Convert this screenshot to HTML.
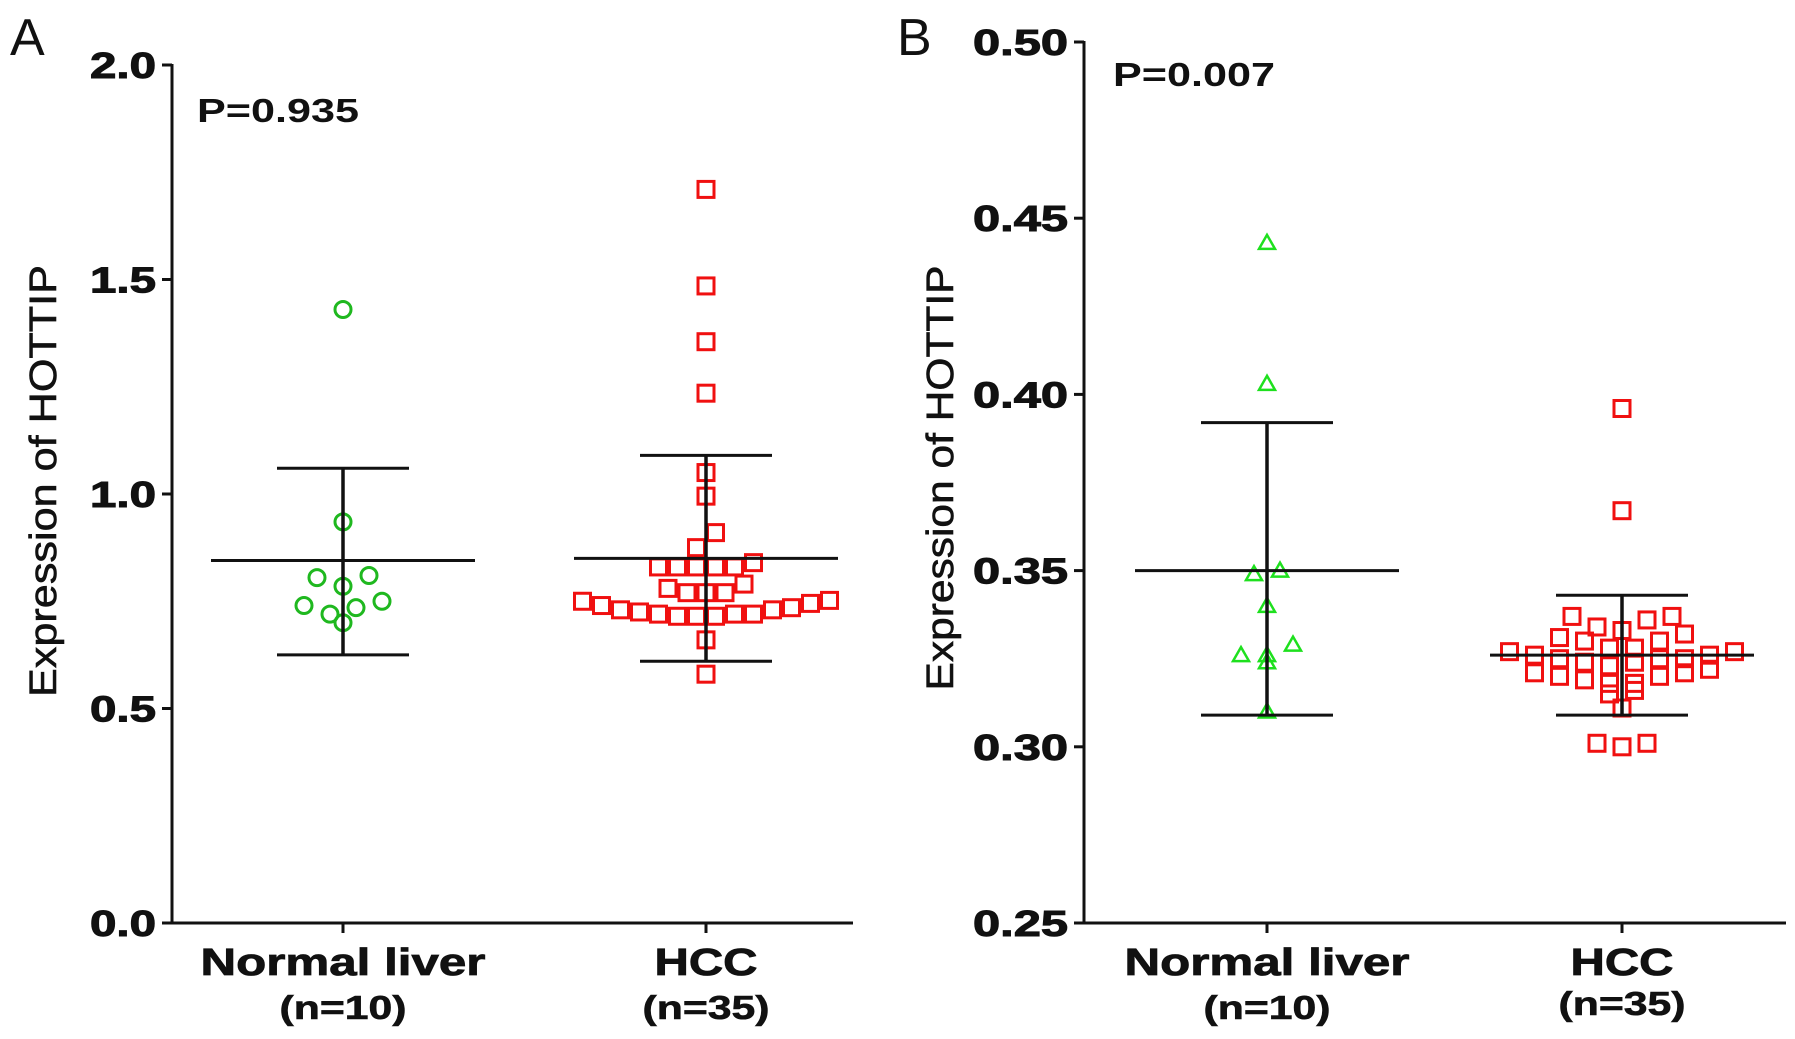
<!DOCTYPE html>
<html><head><meta charset="utf-8"><style>
html,body{margin:0;padding:0;background:#fff;}
svg{display:block;font-family:"Liberation Sans",Arial,sans-serif;}
</style></head><body>
<svg id="chart" width="1795" height="1039" viewBox="0 0 1795 1039" xmlns="http://www.w3.org/2000/svg"></svg>
<script>
// Panel A data
const aCategories = ["Normal liver", "HCC"];
const aCounts = ["(n=10)", "(n=35)"];
const aTicks = [0.0, 0.5, 1.0, 1.5, 2.0];
const aTickLabels = ["0.0", "0.5", "1.0", "1.5", "2.0"];
const aNormal = [1.43, 0.935, 0.81, 0.805, 0.785, 0.75, 0.74, 0.735, 0.72, 0.70];
const aHCC = [1.71, 1.485, 1.355, 1.235, 1.05, 0.995, 0.91, 0.875, 0.84, 0.83, 0.83, 0.83, 0.83, 0.83,
  0.79, 0.78, 0.77, 0.77, 0.77, 0.752, 0.75, 0.745, 0.74, 0.735, 0.73, 0.73, 0.725, 0.72, 0.72, 0.72, 0.715, 0.715, 0.715, 0.66, 0.58];
const aMean = [0.845, 0.85];
const aSDhi = [1.06, 1.09];
const aSDlo = [0.625, 0.61];
// Panel B data
const bTicks = [0.25, 0.30, 0.35, 0.40, 0.45, 0.50];
const bTickLabels = ["0.25", "0.30", "0.35", "0.40", "0.45", "0.50"];
const bNormal = [0.443, 0.403, 0.350, 0.349, 0.340, 0.329, 0.326, 0.326, 0.324, 0.310];
const bHCC = [0.396, 0.367, 0.337, 0.337, 0.336, 0.334, 0.333, 0.332, 0.331, 0.330, 0.330, 0.328, 0.328, 0.327, 0.327,
  0.326, 0.326, 0.325, 0.325, 0.325, 0.324, 0.324, 0.323, 0.322, 0.321, 0.321, 0.320, 0.320, 0.319, 0.318, 0.318,
  0.316, 0.315, 0.311, 0.301, 0.300, 0.301];
const bMean = [0.350, 0.326];
const bSDhi = [0.392, 0.343];
const bSDlo = [0.309, 0.309];

const NS = "http://www.w3.org/2000/svg";
const svg = document.getElementById("chart");
function el(tag, attrs, parent, text) {
  const e = document.createElementNS(NS, tag);
  for (const k in attrs) e.setAttribute(k, attrs[k]);
  if (text !== undefined) e.textContent = text;
  (parent || svg).appendChild(e);
  return e;
}

function rows(vals, yf, step, band) {
  const idx = vals.map((v, i) => i).sort((a, b) => vals[b] - vals[a]);
  const out = new Array(vals.length);
  let group = [];
  const flush = () => {
    if (!group.length) return;
    const asc = group.slice().sort((a, b) => vals[a] - vals[b]);
    const n = asc.length;
    const slots = [];
    for (let s = 0; s < n; s++) slots.push(s - (n - 1) / 2);
    slots.sort((a, b) => Math.abs(a) - Math.abs(b) || a - b);
    asc.forEach((i, k) => { out[i] = {dx: slots[k] * step, y: yf(vals[i])}; });
    group = [];
  };
  idx.forEach(i => {
    if (group.length && Math.abs(yf(vals[i]) - yf(vals[group[0]])) > band) flush();
    group.push(i);
  });
  flush();
  return out;
}

function panel(cfg) {
  const g = el("g", { });
  const y = v => cfg.y0 + (v - cfg.vmin) / (cfg.vmax - cfg.vmin) * (cfg.y1 - cfg.y0);
  const lt = el("text", {x: cfg.letterX, y: cfg.letterY, "font-size": 52, fill: "#111"}, g, cfg.letter);
   
  const ya = el("line", {x1: cfg.ax, y1: y(cfg.vmax) - 1, x2: cfg.ax, y2: cfg.y0 + 1.5, stroke: "#111", "stroke-width": 3}, g);
   
  const xa = el("line", {x1: cfg.ax - 1.5, y1: cfg.y0, x2: cfg.axEnd, y2: cfg.y0, stroke: "#111", "stroke-width": 3}, g);
   
  cfg.ticks.forEach((t, i) => {
    el("line", {x1: cfg.ax - 10, y1: y(t), x2: cfg.ax, y2: y(t), stroke: "#111", "stroke-width": 3}, g);
    const tl = el("text", {x: cfg.ax - 16, y: y(t) + 13, "font-size": 36, "font-weight": "bold", "text-anchor": "end", fill: "#111", stroke: "#111", "stroke-width": 1, textLength: cfg.tickLen, lengthAdjust: "spacingAndGlyphs"}, g, cfg.tickLabels[i]);
     
  });
  const yt = el("text", {x: 0, y: 0, "font-size": 38, "text-anchor": "middle", fill: "#111", stroke: "#111", "stroke-width": 0.6, transform: `translate(${cfg.titleX},${cfg.titleY}) rotate(-90)`, textLength: cfg.titleLen, lengthAdjust: "spacingAndGlyphs"}, g, "Expression of HOTTIP");
   
  const pt = el("text", {x: cfg.pX, y: cfg.pY, "font-size": 33, "font-weight": "bold", fill: "#111", textLength: 162, lengthAdjust: "spacingAndGlyphs"}, g, cfg.pText);
   
  const catLen = [285, 103], nLen = [127, 127];
  aCategories.forEach((c, i) => {
    const cx = cfg.cx[i];
    el("line", {x1: cx, y1: cfg.y0, x2: cx, y2: cfg.y0 + 10, stroke: "#111", "stroke-width": 3}, g);
    const cl = el("text", {x: cx, y: cfg.y0 + 52, "font-size": 38, "font-weight": "bold", "text-anchor": "middle", fill: "#111", stroke: "#111", "stroke-width": 0.8, textLength: catLen[i], lengthAdjust: "spacingAndGlyphs"}, g, c);
     
    const nl = el("text", {x: cx, y: cfg.y0 + cfg.nDy[i], "font-size": 33, "font-weight": "bold", "text-anchor": "middle", fill: "#111", stroke: "#111", "stroke-width": 0.6, textLength: nLen[i], lengthAdjust: "spacingAndGlyphs"}, g, aCounts[i]);
     
  });
  [cfg.normal, cfg.hcc].forEach((vals, gi) => {
    const cx = cfg.cx[gi];
    const pos = rows(vals, y, cfg.step[gi], 16);
    pos.forEach(p => {
      let m;
      if (gi === 1) {
        m = el("rect", {x: cx + p.dx - 8, y: p.y - 8, width: 16, height: 16, fill: "none", stroke: "#f01010", "stroke-width": 3}, g);
      } else if (cfg.tri) {
        const x0 = cx + p.dx;
        m = el("polygon", {points: `${x0},${p.y - 8} ${x0 - 8},${p.y + 6} ${x0 + 8},${p.y + 6}`, fill: "none", stroke: "#1ee01e", "stroke-width": 2.5}, g);
      } else {
        m = el("circle", {cx: cx + p.dx, cy: p.y, r: 8, fill: "none", stroke: "#1fb81f", "stroke-width": 3}, g);
      }
      
      
    });
    const ml = el("line", {x1: cx - 132, y1: y(cfg.mean[gi]), x2: cx + 132, y2: y(cfg.mean[gi]), stroke: "#111", "stroke-width": 3}, g);
     
    const vl = el("line", {x1: cx, y1: y(cfg.hi[gi]), x2: cx, y2: y(cfg.lo[gi]), stroke: "#111", "stroke-width": 3.5}, g);
     
    [cfg.hi[gi], cfg.lo[gi]].forEach(v => {
      const cap = el("line", {x1: cx - 66, y1: y(v), x2: cx + 66, y2: y(v), stroke: "#111", "stroke-width": 3}, g);
       
    });
  });
}

panel({name: "panel-a", letter: "A", letterX: 10, letterY: 55, ax: 172, axEnd: 853, y0: 923, y1: 65, vmin: 0, vmax: 2,
  ticks: aTicks, tickLabels: aTickLabels, tickLen: 66, titleX: 56, titleY: 481, titleLen: 432, pX: 197, pY: 122, pText: "P=0.935",
  cx: [343, 706], step: [26, 19], nDy: [96, 96], normal: aNormal, hcc: aHCC, mean: aMean, hi: aSDhi, lo: aSDlo, tri: false});
panel({name: "panel-b", letter: "B", letterX: 897, letterY: 55, ax: 1084, axEnd: 1786, y0: 923, y1: 42, vmin: 0.25, vmax: 0.50,
  ticks: bTicks, tickLabels: bTickLabels, tickLen: 95, titleX: 953, titleY: 478, titleLen: 425, pX: 1113, pY: 86, pText: "P=0.007",
  cx: [1267, 1622], step: [26, 25], nDy: [96, 92], normal: bNormal, hcc: bHCC, mean: bMean, hi: bSDhi, lo: bSDlo, tri: true});
</script>
</body></html>
